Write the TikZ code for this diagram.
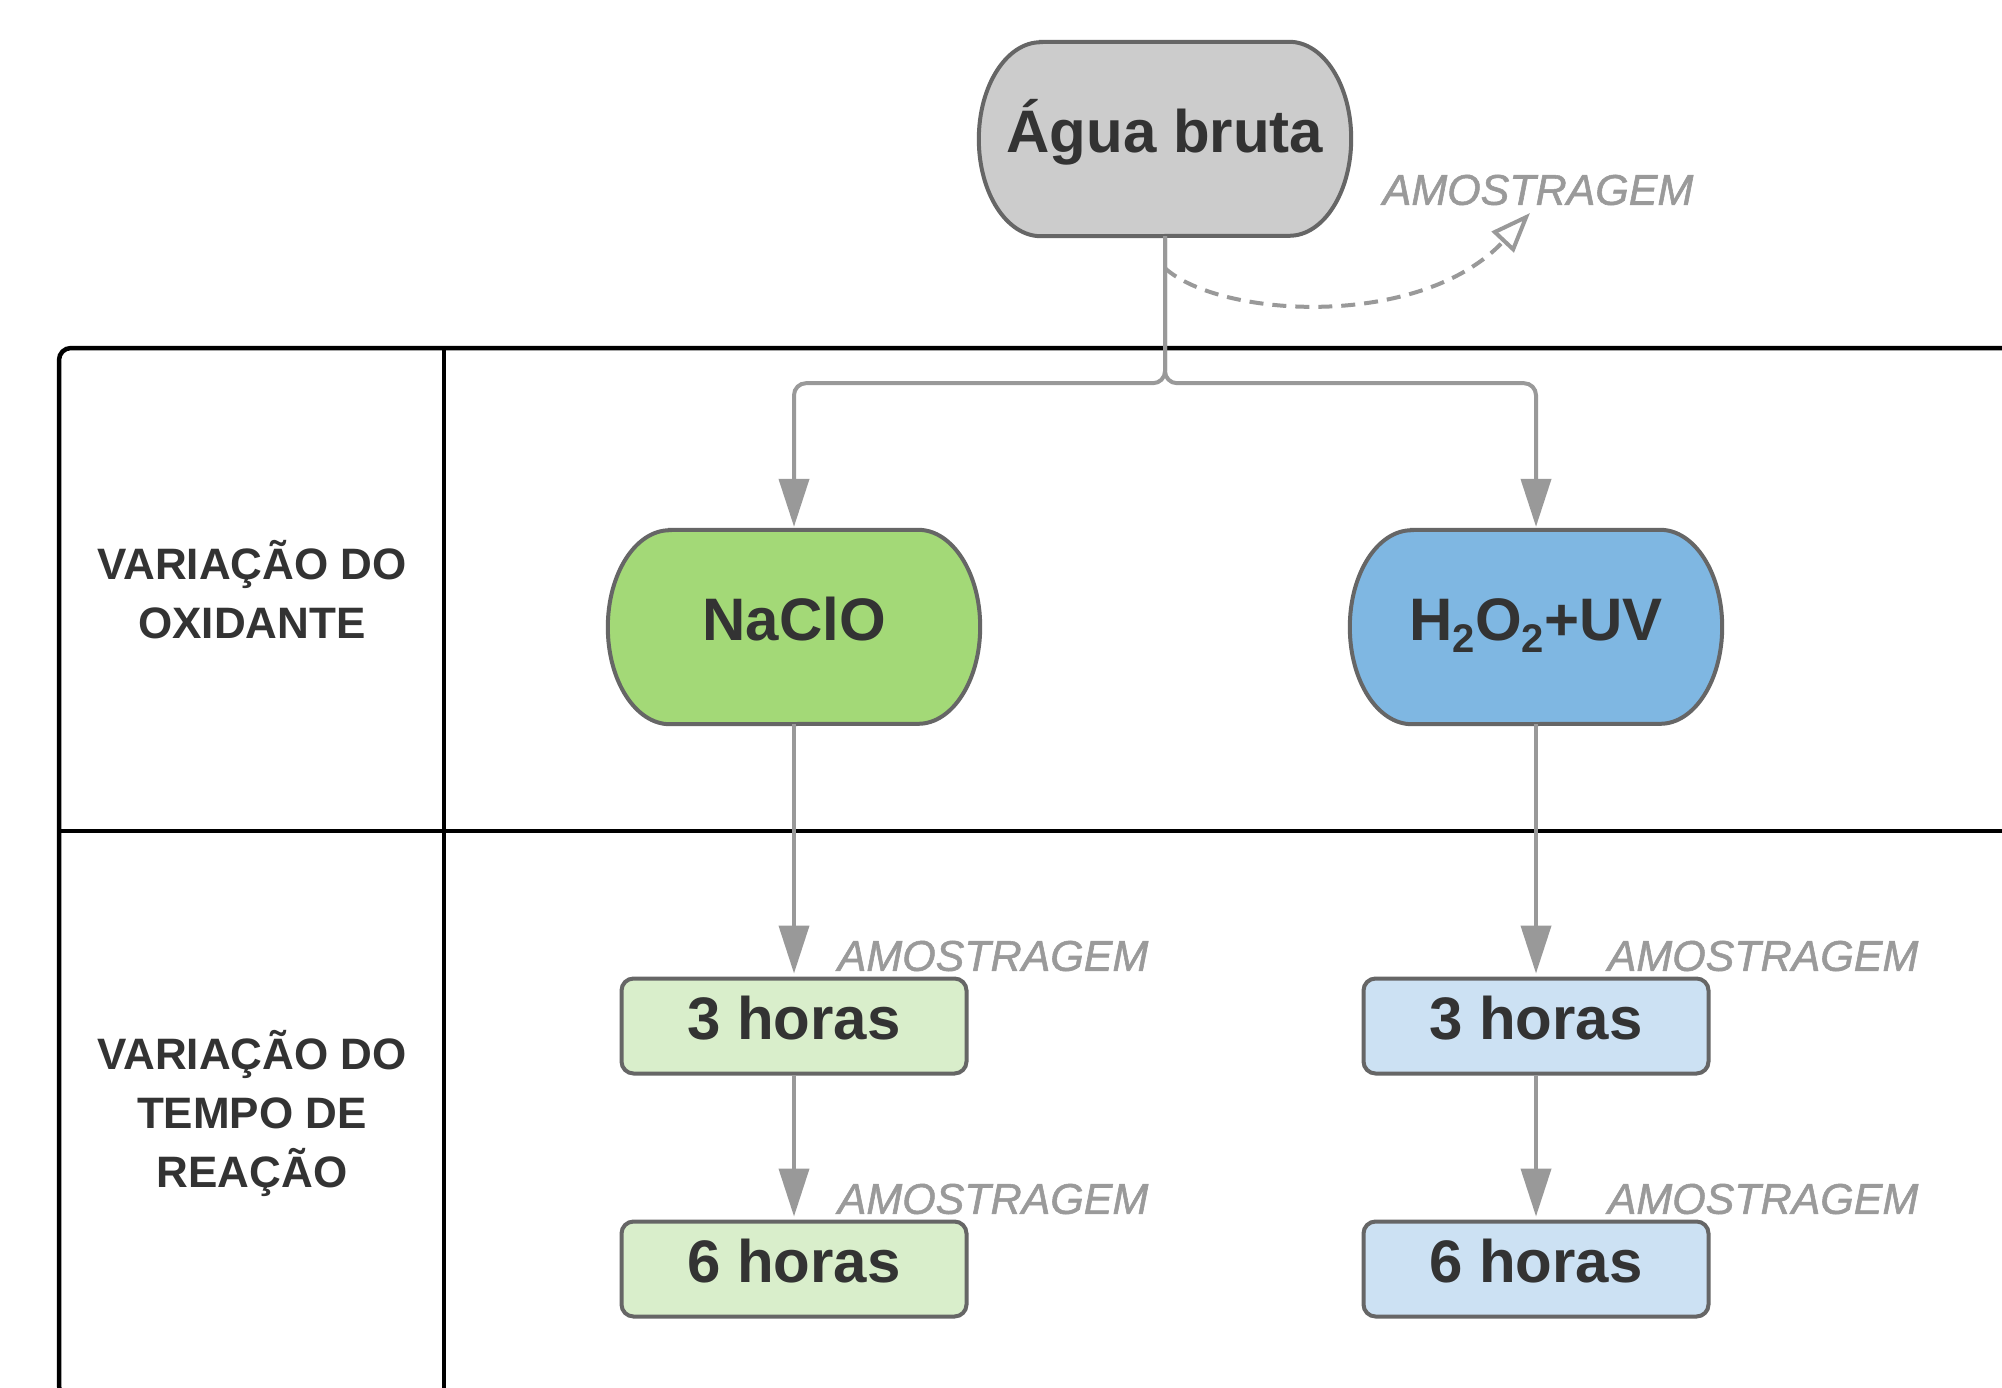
\documentclass[tikz,border=0pt]{standalone}
\usepackage{fontspec}
\setmainfont{Liberation Sans}
\newfontfamily\sampfont[FakeBold=1.3]{Liberation Sans}
\usetikzlibrary{arrows.meta,backgrounds,calc}
\definecolor{connc}{HTML}{999999}
\definecolor{bord}{HTML}{666666}
\definecolor{txt}{HTML}{333333}
\definecolor{samp}{HTML}{9A9A9A}
\definecolor{fgray}{HTML}{CCCCCC}
\definecolor{fgreen}{HTML}{A3D977}
\definecolor{fblue}{HTML}{7FB7E2}
\definecolor{lgreen}{HTML}{D9EECB}
\definecolor{lblue}{HTML}{CCE1F3}
\newcommand\stadshape[2]{%
  \draw[draw=bord, line width=4pt, fill=#2]
    ($(#1.north west)+(62,0)$) -- ($(#1.north east)+(-62,0)$)
    arc[start angle=90,end angle=-90,x radius=62pt,y radius=97pt]
    -- ($(#1.south west)+(62,0)$)
    arc[start angle=270,end angle=90,x radius=62pt,y radius=97pt] -- cycle;}
\tikzset{
  stadium/.style={minimum width=372pt, minimum height=194pt, inner sep=0pt, text=txt,
    text height=43pt, text depth=16pt,
    font=\fontsize{60}{72}\selectfont\bfseries},
  hourbox/.style={draw=bord, line width=4pt, rounded corners=12pt, minimum width=345pt,
    minimum height=95pt, inner sep=0pt, text=txt, text height=43pt, text depth=16pt,
    font=\fontsize{60}{72}\selectfont\bfseries},
  connl/.style={draw=connc, line width=4pt, -{Triangle[length=48pt,width=30pt]}, shorten >=3pt},
  sample/.style={text=samp, font=\fontsize{43}{50}\selectfont\sampfont\itshape},
  rowlabel/.style={align=center, text=txt, font=\fontsize{44}{59}\selectfont\bfseries},
  tableline/.style={draw=black, line width=4.5pt}
}
\begin{document}
\begin{tikzpicture}[x=1pt,y=1pt]
\useasboundingbox (0,0) rectangle (2002,-1388);
\clip (0,0) rectangle (2002,-1388);
\begin{scope}[on background layer]
  \fill[white] (0,0) rectangle (2002,-1388);
\end{scope}
% table
\draw[tableline, rounded corners=12pt] (2030,-348) -- (59,-348) -- (59,-1398) -- (2030,-1398);
\draw[tableline] (59,-831) -- (2030,-831);
\draw[tableline] (444,-348) -- (444,-1410);
% row labels
\node[rowlabel] (r1) at (252,-590) {VARIAÇÃO DO\\OXIDANTE};
\node[rowlabel] (r2) at (252,-1113) {VARIAÇÃO DO\\TEMPO DE\\REAÇÃO};
% main nodes
\node[stadium] (agua) at (1165,-139) {Água bruta};
\node[stadium] (naclo) at (794,-627) {NaClO};
\node[stadium] (h2o2) at (1536,-627) {H\raisebox{-0.2em}{\fontsize{40}{40}\selectfont 2}O\raisebox{-0.2em}{\fontsize{40}{40}\selectfont 2}+UV};
\begin{scope}[on background layer]
  \stadshape{agua}{fgray}
  \stadshape{naclo}{fgreen}
  \stadshape{h2o2}{fblue}
\end{scope}
\node[hourbox, fill=lgreen] (n3) at (794,-1026) {3 horas};
\node[hourbox, fill=lgreen] (n6) at (794,-1269) {6 horas};
\node[hourbox, fill=lblue] (h3) at (1536,-1026) {3 horas};
\node[hourbox, fill=lblue] (h6) at (1536,-1269) {6 horas};
% connectors
\draw[connl, rounded corners=12pt] (agua.south) -- ++(0,-147) -| (naclo.north);
\draw[connl, rounded corners=12pt] (agua.south) -- ++(0,-147) -| (h2o2.north);
\draw[connl] (naclo.south) -- (n3.north);
\draw[connl] (n3.south) -- (n6.north);
\draw[connl] (h2o2.south) -- (h3.north);
\draw[connl] (h3.south) -- (h6.north);
% sampling
\coordinate (ds) at ($(agua.south)+(0,-32)$);
\coordinate (de) at (1530,-213);
\draw[draw=connc, line width=4pt, dash pattern=on 14pt off 9pt,
  -{Triangle[length=40pt,width=30pt,fill=white]}]
  (ds) .. controls (1220,-318) and (1420,-330) .. (de);
\node[sample] (s0) at (1538,-190) {AMOSTRAGEM};
\node[sample] (s1) at (993,-956) {AMOSTRAGEM};
\node[sample] (s2) at (1763,-956) {AMOSTRAGEM};
\node[sample] (s3) at (993,-1199) {AMOSTRAGEM};
\node[sample] (s4) at (1763,-1199) {AMOSTRAGEM};
\end{tikzpicture}
\end{document}
